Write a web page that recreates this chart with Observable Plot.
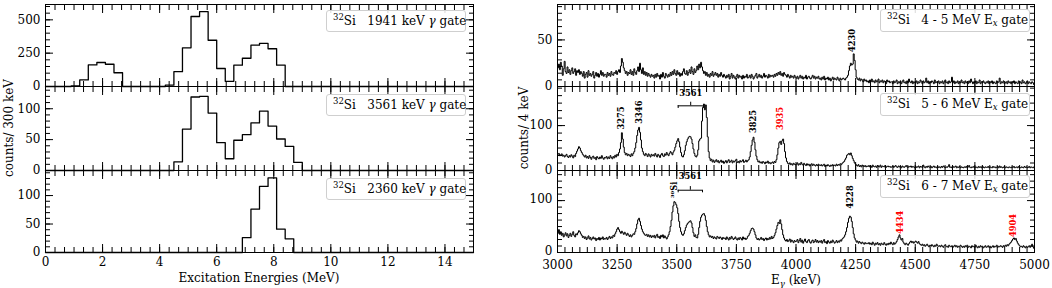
<!DOCTYPE html>
<html><head><meta charset="utf-8">
<script src="https://cdn.jsdelivr.net/npm/d3@7"></script>
<script src="https://cdn.jsdelivr.net/npm/@observablehq/plot@0.6"></script>
<style>
body{margin:0;background:#fff;}
#wrap{position:relative;width:1052px;height:288px;font-family:"DejaVu Serif",serif;color:#000;overflow:hidden;background:#fff}
.panel{position:absolute}
.panel svg{overflow:visible}
.legend{position:absolute;box-sizing:border-box;border:1px solid #cfcfcf;border-radius:3px;background:rgba(255,255,255,0.85);font-size:12px;white-space:pre;padding-left:6px;display:block}
.legend sup{font-size:8.5px;vertical-align:5px;line-height:0}
.legend sub{font-size:8.5px;vertical-align:-2px;line-height:0}
.title{position:absolute;font-size:12px;white-space:nowrap;transform:translate(-50%,-50%)}
.ytitle{transform:translate(-50%,-50%) rotate(-90deg)}
</style></head>
<body><div id="wrap"></div>
<script>
// ---------- Left column: excitation-energy histograms (300 keV bins, 0–15 MeV) ----------
const exBinStart = 0;      // MeV
const exBinWidth = 0.3;    // MeV
const gate1941 = [0,0,0,5,49, 162,180,167,103,0, 0,0,0,0,10, 111,290,525,561,347, 135,39,160,212,310, 323,283,160,0,0, 0,0,0,0,0, 0,0,0,0,0, 0,0,0,0,0, 0,0,0,0,0];
const gate3561 = [0,0,0,0,0, 0,0,0,0,0, 0,0,0,0,0, 14,67,119,120,93, 45,19,49,58,77, 96,72,51,39,13, 0,0,0,0,0, 0,0,0,0,0, 0,0,0,0,0, 0,0,0,0,0];
const gate2360 = [0,0,0,0,0, 0,0,0,0,0, 0,0,0,0,0, 0,0,0,0,0, 0,0,0,26,76, 116,131,41,24,0, 0,0,0,0,0, 0,0,0,0,0, 0,0,0,0,0, 0,0,0,0,0];
const leftGates = ["1941", "3561", "2360"];
const leftXTicks = [0,2,4,6,8,10,12,14];
const leftYTicksTop = [0,250,500];
const leftYTicksMid = [0,50,100];
const leftYTicksBot = [0,50,100];

// ---------- Right column: gamma spectra (4 keV bins, 3000–5000 keV) ----------
const eStart = 3000;  // keV
const eBin = 4;       // keV
const spec45 = [
20,24,18,26,22,12,19,27,16,14,21,15,18,13,17,20,14,16,19,12,17,15,18,13,16,
14,11,16,9,13,15,10,17,12,14,11,13,16,9,12,15,11,14,10,13,17,12,15,11,13,
13,10,15,12,14,11,16,13,12,15,14,17,13,16,18,15,22,30,26,20,17,14,16,12,15,
14,18,13,16,12,19,15,13,17,21,16,25,18,14,20,13,16,12,15,11,14,12,10,13,11,
12,9,13,10,14,11,12,8,13,10,15,11,9,14,12,10,13,11,15,12,16,13,18,14,12,
17,13,15,11,14,12,16,19,14,13,17,12,15,18,14,21,16,13,19,15,17,22,18,24,20,
26,21,17,14,16,12,15,11,13,10,14,12,16,11,13,15,12,14,10,13,11,15,12,10,13,
11,9,12,10,13,8,11,14,9,12,10,8,11,13,9,12,10,11,8,12,9,11,10,13,9,
10,12,9,13,11,8,10,12,14,9,11,13,10,12,9,11,14,10,12,11,9,13,10,12,11,
12,10,13,11,14,12,15,13,16,12,14,11,15,13,12,10,13,11,9,12,10,11,9,12,10,
9,11,8,10,12,9,11,8,10,9,12,8,10,11,9,8,10,12,9,11,8,10,9,11,8,
9,7,10,8,11,7,9,8,10,7,9,6,8,10,7,9,8,7,10,8,6,9,7,8,9,
8,7,9,10,12,17,22,25,23,24,35,28,18,10,8,7,9,6,8,7,5,8,6,7,5,
6,4,7,5,8,5,6,4,7,5,6,8,4,6,5,7,4,6,5,3,7,5,6,4,5,
5,3,6,4,5,7,3,5,4,6,3,5,7,4,5,3,6,4,8,5,4,6,3,5,4,
4,6,3,5,4,7,5,3,6,4,5,9,4,6,3,5,4,6,5,3,7,4,5,4,6,
3,5,4,6,3,5,7,4,5,3,6,4,5,10,4,6,3,5,4,6,3,5,4,7,4,
5,3,6,4,5,3,6,4,8,5,3,5,4,6,3,5,4,7,3,5,4,6,4,3,5,
4,6,3,5,4,6,3,5,4,3,6,4,5,9,3,5,4,6,3,4,5,3,6,4,5,
3,5,4,6,3,5,4,3,6,4,5,3,7,4,5,3,4,6,3,5,4,3,5,4,2];
const spec56 = [
36,38,33,35,37,32,34,30,33,36,31,29,33,30,35,32,28,34,31,38,43,48,53,50,44,
40,36,33,30,34,28,31,27,33,29,25,30,32,27,29,24,31,28,26,30,27,33,28,25,29,
28,31,26,30,27,33,29,26,31,28,34,30,36,33,40,48,62,84,70,52,40,35,38,33,36,
34,31,37,33,38,42,50,62,78,90,96,85,68,50,42,36,33,38,35,31,37,34,30,36,33,
35,32,38,34,30,36,33,29,35,38,33,31,37,34,40,36,33,38,42,39,35,41,45,52,60,
66,71,64,52,40,32,30,35,44,56,64,70,74,76,75,70,60,48,38,32,30,34,46,66,70,
72,110,140,148,135,146,118,75,42,28,22,25,19,23,18,21,24,19,22,17,20,23,18,21,16,
19,22,17,21,24,18,20,23,17,21,19,22,25,18,20,17,22,19,21,24,18,20,23,19,22,
24,30,42,56,68,74,63,46,32,24,19,21,17,19,16,20,18,15,19,17,21,16,18,15,17,
19,16,20,18,24,35,50,62,65,58,66,70,60,42,28,20,16,14,17,13,15,12,16,14,13,
14,17,12,15,13,18,14,12,16,13,11,15,12,14,10,13,15,11,14,12,10,13,11,14,12,
11,13,10,12,14,9,12,10,13,11,9,12,10,13,11,12,10,14,11,13,12,15,13,16,18,
20,24,28,34,36,38,35,39,33,27,22,17,14,12,10,13,9,11,8,12,10,9,11,8,10,
9,11,8,10,7,12,9,8,10,7,11,9,8,12,7,10,9,8,11,7,9,10,8,9,7,
8,10,7,9,11,8,7,10,8,9,6,10,8,7,9,11,8,7,9,8,10,7,9,8,6,
9,7,8,10,6,9,8,7,12,8,6,9,7,10,8,7,9,6,8,10,7,8,6,9,7,
8,6,9,7,10,8,6,8,7,9,13,7,8,6,9,7,8,10,6,8,7,9,6,8,7,
6,8,7,9,6,8,11,7,6,8,7,9,6,8,7,6,9,7,8,6,10,7,6,8,7,
7,9,6,8,7,6,9,7,8,6,7,9,6,10,7,8,6,7,9,6,8,7,6,8,7,
6,8,7,9,6,7,8,6,9,7,6,8,7,6,9,7,8,6,7,9,6,8,7,6,8];
const spec67 = [
38,44,35,40,33,37,30,34,38,32,36,29,33,37,31,35,40,33,30,36,34,38,42,40,36,
33,29,31,27,30,25,28,32,26,29,24,27,30,26,28,23,27,25,29,24,28,26,30,25,27,
26,29,25,28,31,27,30,28,33,31,36,40,45,48,44,40,37,41,38,35,39,36,33,37,34,
31,34,30,33,36,35,40,46,55,63,66,60,52,45,40,37,34,33,35,31,34,30,33,29,32,
30,33,28,32,35,29,31,27,33,30,34,28,32,29,26,30,34,40,50,62,78,90,98,96,92,
86,75,60,48,40,35,33,36,42,48,53,56,58,60,61,57,48,38,31,34,29,28,35,48,60,
68,72,74,75,71,62,50,40,34,30,32,29,31,27,30,28,26,31,29,27,30,28,25,29,27,
28,25,30,27,24,29,26,31,28,25,27,30,26,24,28,25,29,27,24,30,26,28,25,27,31,
33,37,42,46,47,45,40,34,28,25,27,24,26,29,25,27,23,26,28,24,27,25,29,26,31,
27,29,33,38,45,52,58,56,63,55,44,34,28,24,22,25,21,23,26,20,24,22,19,23,21,
22,25,19,23,27,20,24,18,22,26,21,19,23,25,20,18,22,24,19,21,25,20,23,19,22,
20,23,18,22,25,19,21,17,23,20,18,22,19,24,21,18,20,23,19,22,20,24,22,26,28,
30,34,40,48,58,66,70,68,60,48,36,28,24,20,22,18,21,19,17,20,18,16,19,17,18,
17,19,16,18,15,20,17,14,18,16,19,15,17,14,18,16,15,19,16,14,17,15,18,16,20,
17,15,19,16,18,21,25,30,34,28,24,27,20,17,15,18,16,14,17,20,22,19,21,18,20,
22,20,18,21,17,15,14,16,13,15,12,14,16,13,11,14,12,15,13,11,14,12,16,13,12,
13,11,14,12,10,13,15,11,12,10,14,12,11,13,10,12,14,11,13,10,12,11,14,12,10,
12,10,13,11,14,10,12,11,9,13,11,12,10,14,11,9,12,10,13,11,12,9,11,13,10,
11,13,10,12,9,11,13,10,12,11,14,10,12,11,13,12,10,13,11,14,12,15,13,16,18,
20,23,26,28,25,27,22,18,15,13,11,12,10,13,11,9,12,10,11,13,10,12,16,11,8];
const rightGates = ["4 - 5", "5 - 6", "6 - 7"];
const rightXTicks = [3000,3250,3500,3750,4000,4250,4500,4750,5000];
const rightYTicksTop = [0,50];
const rightYTicksMid = [0,100];
const rightYTicksBot = [0,100];

// peak annotations (label, energy, label base in counts)
const peaks45 = [{label:"4230", e:4236, y:36, red:false}];
const peaks56 = [
  {label:"3275", e:3269, y:89, red:false},
  {label:"3346", e:3342, y:102, red:false},
  {label:"3825", e:3821, y:81, red:false},
  {label:"3935", e:3936, y:88, red:true}];
const peaks67 = [
  {label:"³⁰Si", e:3491, y:103, red:false},
  {label:"4228", e:4229, y:83, red:false},
  {label:"4434", e:4436, y:34, red:true},
  {label:"4904", e:4912, y:28, red:true}];
const bracket56 = {label:"3561", x1:3506, x2:3611, y:144, yEnd:138, yMid:152, yLabel:172};
const bracket67 = {label:"3561", x1:3506, x2:3608, y:120, yEnd:115, yMid:127, yLabel:147};

// ---------- helpers ----------
const toRows = (start, step, counts) =>
  counts.map((c, i) => ({x: start + i * step, y: c})).concat([{x: start + counts.length * step, y: counts[counts.length - 1]}]);

function ticksMarks(xMajor, xMinor, yMajor, yMinor) {
  const MN = 5, MJ = 8, out = [];
  for (const a of ["top", "bottom"]) {
    out.push(Plot.axisX(xMinor, {anchor: a, tickSize: -MN, fill: "none", label: null}));
    out.push(Plot.axisX(xMajor, {anchor: a, tickSize: -MJ, fill: "none", label: null}));
  }
  for (const a of ["left", "right"]) {
    out.push(Plot.axisY(yMinor, {anchor: a, tickSize: -MN, fill: "none", label: null}));
    out.push(Plot.axisY(yMajor, {anchor: a, tickSize: -MJ, fill: "none", label: null}));
  }
  return out;
}

function panel(cfg) {
  const marks = [
    ...cfg.marks,
    ...ticksMarks(cfg.xMajor, cfg.xMinor, cfg.yMajor, cfg.yMinor),
    Plot.frame({stroke: "black", strokeWidth: 1}),
    Plot.axisY(cfg.yMajor, {anchor: "left", tickSize: 0, tickPadding: 5, dy: cfg.yDy || 0, tickFormat: d => String(d), label: null})
  ];
  if (cfg.showX) marks.push(Plot.axisX(cfg.xMajor, {anchor: "bottom", tickSize: 0, tickPadding: cfg.xPad, tickFormat: d => String(d), label: null}));
  const svg = Plot.plot({
    width: cfg.width, height: cfg.height,
    marginTop: 0, marginRight: 0, marginBottom: 0, marginLeft: 0,
    x: {domain: cfg.xDomain, axis: null},
    y: {domain: cfg.yDomain, axis: null},
    style: {overflow: "visible", background: "transparent", fontFamily: "'DejaVu Serif', serif", fontSize: "12px", color: "black"},
    marks
  });
  svg.style.overflow = "visible";
  const div = document.createElement("div");
  div.className = "panel";
  div.style.left = cfg.left + "px";
  div.style.top = cfg.top + "px";
  div.appendChild(svg);
  return div;
}

function peakMarks(peaks) {
  const common = {x: "e", y: "y", text: "label", rotate: -90, textAnchor: "start", lineAnchor: "middle", fontWeight: "bold", fontSize: 8.3, fontFamily: "'DejaVu Serif', serif", dy: -1};
  return [
    Plot.text(peaks.filter(p => !p.red), {...common, fill: "black"}),
    Plot.text(peaks.filter(p => p.red), {...common, fill: "red"})
  ];
}
function bracketMarks(b) {
  return [
    Plot.ruleY([b], {x1: "x1", x2: "x2", y: "y", stroke: "black", strokeWidth: 1}),
    Plot.ruleX([b.x1, b.x2], {x: d => d, y1: b.yEnd, y2: b.y, stroke: "black", strokeWidth: 1}),
    Plot.ruleX([b], {x: d => (d.x1 + d.x2) / 2, y1: "y", y2: "yMid", stroke: "black", strokeWidth: 1}),
    Plot.text([b], {x: d => (d.x1 + d.x2) / 2, y: "yLabel", text: "label", fontWeight: "bold", fontSize: 8.3, fontFamily: "'DejaVu Serif', serif"})
  ];
}

const wrap = document.getElementById("wrap");
const L = {left: 45, width: 428}, R = {left: 557, width: 477};
const rows = [{top: 4, height: 82}, {top: 86, height: 84}, {top: 170, height: 82}];

// left column
const leftData = [gate1941, gate3561, gate2360];
const leftYMax = [615, 136, 144];
const leftYMajor = [leftYTicksTop, leftYTicksMid, leftYTicksBot];
const leftYMinorStep = [50, 10, 10];
leftData.forEach((counts, k) => {
  wrap.appendChild(panel({
    ...L, ...rows[k], xPad: 5,
    xDomain: [0, 15], yDomain: [0, leftYMax[k]],
    xMajor: leftXTicks, xMinor: d3.range(0, 15.0001, 1 / 3),
    yMajor: leftYMajor[k], yMinor: d3.range(0, leftYMax[k], leftYMinorStep[k]),
    showX: k === 2,
    marks: [Plot.line(toRows(exBinStart, exBinWidth, counts), {x: "x", y: "y", curve: "step-after", stroke: "black", strokeWidth: 1.3})]
  }));
});

// right column
const rightData = [spec45, spec56, spec67];
const rightYMax = [88, 187, 158];
const rightYMajor = [rightYTicksTop, rightYTicksMid, rightYTicksBot];
const rightYMinorStep = [50 / 7, 100 / 6, 12.5];
const rightExtra = [peakMarks(peaks45), [...peakMarks(peaks56), ...bracketMarks(bracket56)], [...peakMarks(peaks67), ...bracketMarks(bracket67)]];
rightData.forEach((counts, k) => {
  wrap.appendChild(panel({
    ...R, ...rows[k], xPad: 8, yDy: k === 2 ? -1.5 : 0,
    xDomain: [3000, 5000], yDomain: [0, rightYMax[k]],
    xMajor: rightXTicks, xMinor: d3.range(3000, 5000.1, 31.25),
    yMajor: rightYMajor[k], yMinor: d3.range(0, rightYMax[k], rightYMinorStep[k]),
    showX: k === 2,
    marks: [Plot.line(toRows(eStart, eBin, counts), {x: "x", y: "y", curve: "step-after", stroke: "black", strokeWidth: 1}), ...rightExtra[k]]
  }));
});

// legends
const legTopOffsets = [6, 8, 8];
leftGates.forEach((g, k) => {
  const d = document.createElement("div");
  d.className = "legend";
  d.style.left = "326px"; d.style.top = (rows[k].top + legTopOffsets[k]) + "px";
  d.style.width = "140px"; d.style.height = "22px"; d.style.lineHeight = "20px";
  d.innerHTML = `<sup>32</sup>Si   ${g} keV <i>γ</i> gate`;
  wrap.appendChild(d);
});
const legTopOffsetsR = [5, 7, 5];
rightGates.forEach((g, k) => {
  const d = document.createElement("div");
  d.className = "legend";
  d.style.left = "880px"; d.style.top = (rows[k].top + legTopOffsetsR[k]) + "px";
  d.style.width = "150px"; d.style.height = "23px"; d.style.lineHeight = "21px";
  d.innerHTML = `<sup>32</sup>Si   ${g} MeV E<sub><i>x</i></sub> gate`;
  wrap.appendChild(d);
});

// axis titles
function title(text, x, y, cls) {
  const d = document.createElement("div");
  d.className = "title " + (cls || "");
  d.style.left = x + "px"; d.style.top = y + "px";
  d.innerHTML = text;
  wrap.appendChild(d);
}
title("Excitation Energies (MeV)", 259, 278);
title("E<sub style='font-size:8.5px'><i>γ</i></sub> (keV)", 796, 281);
title("counts/ 300 keV", 9, 128, "ytitle");
title("counts/ 4 keV", 524, 128, "ytitle");
</script></body></html>
